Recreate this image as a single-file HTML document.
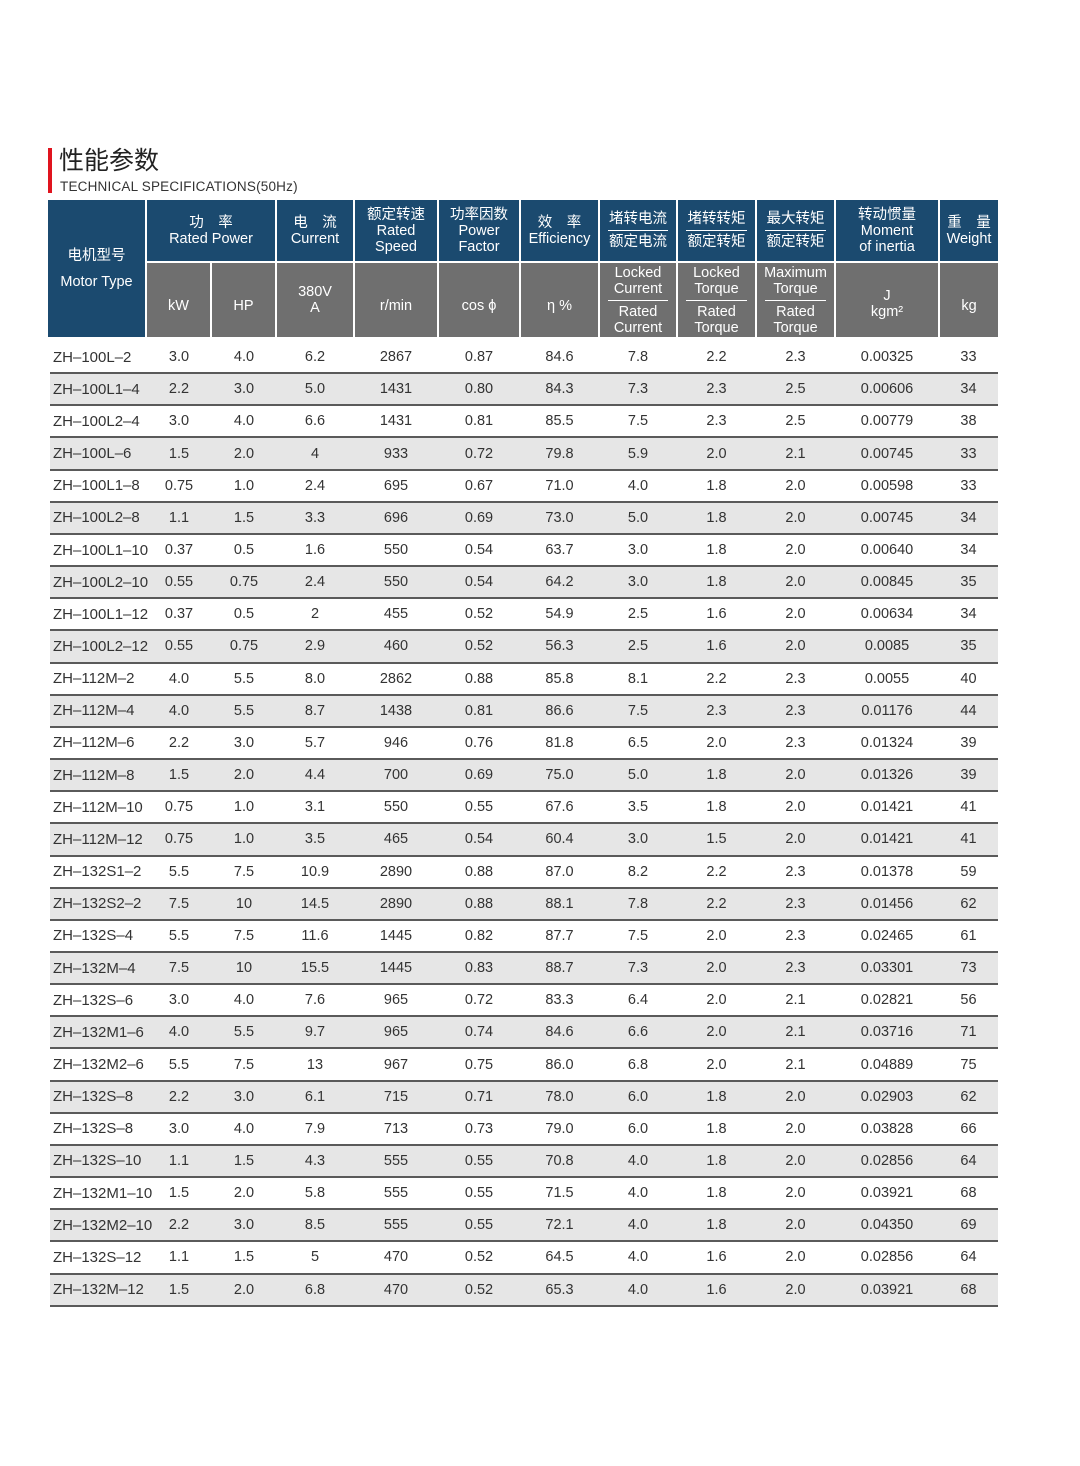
<!DOCTYPE html>
<html><head><meta charset="utf-8"><style>
body{margin:0;width:1080px;height:1466px;background:#fff;position:relative;font-family:"Liberation Sans","Noto Sans CJK SC",sans-serif;overflow:hidden}
.bar{position:absolute;left:48px;top:148px;width:4px;height:45px;background:#e0141e}
.t1{position:absolute;left:59px;top:146px;font-size:25px;color:#222;line-height:30px}
.t2{position:absolute;left:60px;top:179px;font-size:13.5px;color:#333;line-height:15px;letter-spacing:0.2px}
.h{position:absolute;color:#fff;display:flex;flex-direction:column;align-items:center;justify-content:center;text-align:center;font-size:14.5px;line-height:16px;box-sizing:border-box;white-space:nowrap}
.b{background:#1b4a6f}.g{background:#6f6f6f}
.hr{width:80%;border-top:1.5px solid #fff;margin:3px 0}
.rows{position:absolute;left:50px;top:342px;width:948px}
.r{display:flex;height:30.17px;border-bottom:2px solid #5a5a5a;align-items:center;font-size:14.5px;color:#333;white-space:nowrap}
.r:nth-child(even){background:#e6e6e6}
.r span{text-align:center;white-space:nowrap;overflow:visible}
.r span:first-child{text-align:left;padding-left:3px;box-sizing:border-box;font-size:15px}
</style></head><body>
<div class="bar"></div>
<div class="t1">性能参数</div>
<div class="t2">TECHNICAL SPECIFICATIONS(50Hz)</div>

<div class="h b" style="left:48px;top:200px;width:97px;height:137px"><div>电机型号</div><div style="margin-top:10px">Motor Type</div></div>
<div class="h b" style="left:147px;top:200px;width:128px;height:61px"><div>功　率</div><div>Rated Power</div></div>
<div class="h b" style="left:277px;top:200px;width:76px;height:61px"><div>电　流</div><div>Current</div></div>
<div class="h b" style="left:355px;top:200px;width:82px;height:61px"><div>额定转速</div><div>Rated</div><div>Speed</div></div>
<div class="h b" style="left:439px;top:200px;width:80px;height:61px"><div>功率因数</div><div>Power</div><div>Factor</div></div>
<div class="h b" style="left:521px;top:200px;width:77px;height:61px"><div>效　率</div><div>Efficiency</div></div>
<div class="h b" style="left:600px;top:200px;width:76px;height:61px"><div>堵转电流</div><div class="hr"></div><div>额定电流</div></div>
<div class="h b" style="left:678px;top:200px;width:77px;height:61px"><div>堵转转矩</div><div class="hr"></div><div>额定转矩</div></div>
<div class="h b" style="left:757px;top:200px;width:77px;height:61px"><div>最大转矩</div><div class="hr"></div><div>额定转矩</div></div>
<div class="h b" style="left:836px;top:200px;width:102px;height:61px"><div>转动惯量</div><div>Moment</div><div>of inertia</div></div>
<div class="h b" style="left:940px;top:200px;width:58px;height:61px"><div>重　量</div><div>Weight</div></div>

<div class="h g" style="left:147px;top:263px;width:63px;height:74px;padding-top:12px">kW</div>
<div class="h g" style="left:212px;top:263px;width:63px;height:74px;padding-top:12px">HP</div>
<div class="h g" style="left:277px;top:263px;width:76px;height:74px"><div>380V</div><div>A</div></div>
<div class="h g" style="left:355px;top:263px;width:82px;height:74px;padding-top:12px">r/min</div>
<div class="h g" style="left:439px;top:263px;width:80px;height:74px;padding-top:12px">cos ϕ</div>
<div class="h g" style="left:521px;top:263px;width:77px;height:74px;padding-top:12px">η %</div>
<div class="h g" style="left:600px;top:263px;width:76px;height:74px"><div>Locked</div><div>Current</div><div class="hr"></div><div>Rated</div><div>Current</div></div>
<div class="h g" style="left:678px;top:263px;width:77px;height:74px"><div>Locked</div><div>Torque</div><div class="hr"></div><div>Rated</div><div>Torque</div></div>
<div class="h g" style="left:757px;top:263px;width:77px;height:74px"><div>Maximum</div><div>Torque</div><div class="hr"></div><div>Rated</div><div>Torque</div></div>
<div class="h g" style="left:836px;top:263px;width:102px;height:74px;padding-top:8px"><div>J</div><div>kgm²</div></div>
<div class="h g" style="left:940px;top:263px;width:58px;height:74px;padding-top:12px">kg</div>

<div class="rows" id="rows"></div>
<script>
const widths=[96,66,64,78,84,82,79,78,79,79,104,59];
const rowsData=[
["ZH-100L-2","3.0","4.0","6.2","2867","0.87","84.6","7.8","2.2","2.3","0.00325","33"],
["ZH-100L1-4","2.2","3.0","5.0","1431","0.80","84.3","7.3","2.3","2.5","0.00606","34"],
["ZH-100L2-4","3.0","4.0","6.6","1431","0.81","85.5","7.5","2.3","2.5","0.00779","38"],
["ZH-100L-6","1.5","2.0","4","933","0.72","79.8","5.9","2.0","2.1","0.00745","33"],
["ZH-100L1-8","0.75","1.0","2.4","695","0.67","71.0","4.0","1.8","2.0","0.00598","33"],
["ZH-100L2-8","1.1","1.5","3.3","696","0.69","73.0","5.0","1.8","2.0","0.00745","34"],
["ZH-100L1-10","0.37","0.5","1.6","550","0.54","63.7","3.0","1.8","2.0","0.00640","34"],
["ZH-100L2-10","0.55","0.75","2.4","550","0.54","64.2","3.0","1.8","2.0","0.00845","35"],
["ZH-100L1-12","0.37","0.5","2","455","0.52","54.9","2.5","1.6","2.0","0.00634","34"],
["ZH-100L2-12","0.55","0.75","2.9","460","0.52","56.3","2.5","1.6","2.0","0.0085","35"],
["ZH-112M-2","4.0","5.5","8.0","2862","0.88","85.8","8.1","2.2","2.3","0.0055","40"],
["ZH-112M-4","4.0","5.5","8.7","1438","0.81","86.6","7.5","2.3","2.3","0.01176","44"],
["ZH-112M-6","2.2","3.0","5.7","946","0.76","81.8","6.5","2.0","2.3","0.01324","39"],
["ZH-112M-8","1.5","2.0","4.4","700","0.69","75.0","5.0","1.8","2.0","0.01326","39"],
["ZH-112M-10","0.75","1.0","3.1","550","0.55","67.6","3.5","1.8","2.0","0.01421","41"],
["ZH-112M-12","0.75","1.0","3.5","465","0.54","60.4","3.0","1.5","2.0","0.01421","41"],
["ZH-132S1-2","5.5","7.5","10.9","2890","0.88","87.0","8.2","2.2","2.3","0.01378","59"],
["ZH-132S2-2","7.5","10","14.5","2890","0.88","88.1","7.8","2.2","2.3","0.01456","62"],
["ZH-132S-4","5.5","7.5","11.6","1445","0.82","87.7","7.5","2.0","2.3","0.02465","61"],
["ZH-132M-4","7.5","10","15.5","1445","0.83","88.7","7.3","2.0","2.3","0.03301","73"],
["ZH-132S-6","3.0","4.0","7.6","965","0.72","83.3","6.4","2.0","2.1","0.02821","56"],
["ZH-132M1-6","4.0","5.5","9.7","965","0.74","84.6","6.6","2.0","2.1","0.03716","71"],
["ZH-132M2-6","5.5","7.5","13","967","0.75","86.0","6.8","2.0","2.1","0.04889","75"],
["ZH-132S-8","2.2","3.0","6.1","715","0.71","78.0","6.0","1.8","2.0","0.02903","62"],
["ZH-132S-8","3.0","4.0","7.9","713","0.73","79.0","6.0","1.8","2.0","0.03828","66"],
["ZH-132S-10","1.1","1.5","4.3","555","0.55","70.8","4.0","1.8","2.0","0.02856","64"],
["ZH-132M1-10","1.5","2.0","5.8","555","0.55","71.5","4.0","1.8","2.0","0.03921","68"],
["ZH-132M2-10","2.2","3.0","8.5","555","0.55","72.1","4.0","1.8","2.0","0.04350","69"],
["ZH-132S-12","1.1","1.5","5","470","0.52","64.5","4.0","1.6","2.0","0.02856","64"],
["ZH-132M-12","1.5","2.0","6.8","470","0.52","65.3","4.0","1.6","2.0","0.03921","68"]
];
const container=document.getElementById('rows');
rowsData.forEach(function(row){
  const r=document.createElement('div');
  r.className='r';
  
  
  row.forEach(function(v,i){
    const s=document.createElement('span');
    s.style.width=widths[i]+'px';
    s.style.flex='0 0 '+widths[i]+'px';
    s.textContent=v.replace(/-/g,'–');
    
    
    r.appendChild(s);
  });
  container.appendChild(r);
});
</script>
</body></html>
